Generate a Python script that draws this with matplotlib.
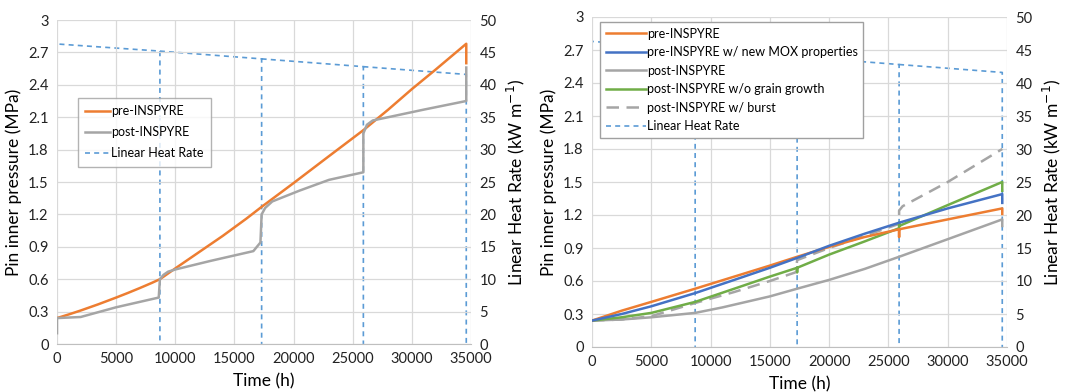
import matplotlib
matplotlib.use("Agg")
import matplotlib.pyplot as plt

plt.rcParams['font.family'] = ['Lato', 'DejaVu Sans']

# ---------------- data ----------------
# Linear heat rate: cycle boundaries (h) and LHR values (kW/m)
lhr_t = [0, 8700, 17300, 25900, 34600]
lhr_v = [46.3, 45.2, 44.0, 42.8, 41.6]

# Left panel
L_pre_t = [0, 1000, 2000, 3500, 5000, 6000, 7000, 8000, 8700, 10000, 12000, 14000, 16000, 17300,
           20000, 23000, 25900, 28000, 30000, 32000, 34600, 34600]
L_pre_p = [0.24, 0.274, 0.31, 0.368, 0.43, 0.473, 0.518, 0.565, 0.60, 0.70, 0.85, 1.00, 1.16, 1.27,
           1.49, 1.74, 1.98, 2.17, 2.36, 2.54, 2.78, 2.60]
L_post_t = [0, 0, 2000, 5000, 8600, 8700, 9000, 9400, 10000, 13000, 16600, 17200, 17300,
            17600, 18200, 20500, 23000, 25900, 25900, 26200, 26700, 28000, 31000, 34600, 34600]
L_post_p = [0.10, 0.24, 0.25, 0.34, 0.43, 0.60, 0.64, 0.67, 0.69, 0.77, 0.86, 0.94, 1.20,
            1.26, 1.32, 1.42, 1.52, 1.59, 1.95, 2.03, 2.07, 2.10, 2.17, 2.25, 2.56]

# Right panel
R_pre_t = [0, 2500, 5000, 8700, 12000, 15000, 17300, 20000, 23000, 25900, 25900, 25900,
           30000, 34600, 34600]
R_pre_p = [0.24, 0.33, 0.41, 0.53, 0.64, 0.74, 0.82, 0.91, 1.00, 1.07, 1.00, 1.07,
           1.16, 1.26, 1.21]
R_mox_t = [0, 2500, 5000, 8700, 12000, 15000, 17300, 20000, 23000, 25900, 30000, 34600, 34600]
R_mox_p = [0.24, 0.30, 0.37, 0.49, 0.61, 0.72, 0.81, 0.92, 1.03, 1.13, 1.26, 1.39, 1.31]
R_post_t = [0, 2500, 5000, 8700, 11000, 15000, 17300, 20000, 23000, 25900, 30000, 34600, 34600]
R_post_p = [0.24, 0.25, 0.27, 0.31, 0.36, 0.46, 0.53, 0.61, 0.71, 0.82, 0.98, 1.16, 1.10]
R_nogg_t = [0, 2500, 5000, 8700, 12000, 15000, 17300, 17300, 17300, 20000, 23000, 25900,
            25900, 25900, 30000, 34600, 34600]
R_nogg_p = [0.24, 0.27, 0.31, 0.41, 0.53, 0.64, 0.72, 0.68, 0.72, 0.84, 0.96, 1.08,
            1.13, 1.10, 1.29, 1.50, 1.42]
R_burst_t = [0, 2500, 5000, 8700, 12000, 15000, 17200, 17300, 20000, 23000, 25900, 25900,
             26200, 30000, 34600]
R_burst_p = [0.24, 0.25, 0.28, 0.40, 0.50, 0.60, 0.68, 0.79, 0.90, 1.01, 1.12, 1.24,
             1.28, 1.50, 1.80]

# ---------------- style ----------------
C_ORANGE = '#ED7D31'
C_BLUE = '#4472C4'
C_GRAY = '#A5A5A5'
C_GREEN = '#70AD47'
C_LHR = '#5B9BD5'
GRID = '#D9D9D9'
LEG_FS = 9


def lhr_path(t, v):
    # vertical rise at start, then each cycle: decreasing line then drop to zero
    xs, ys = [t[0], t[0]], [0, v[0]]
    for i in range(len(t) - 1):
        xs += [t[i + 1], t[i + 1], float('nan'), t[i + 1]]
        ys += [v[i + 1], 0, float('nan'), v[i + 1]]
    return xs[:-2], ys[:-2]


def setup(ax, ax2):
    ax.set_xlim(0, 35000)
    ax.set_ylim(0, 3)
    ax.set_xticks(range(0, 35001, 5000))
    ax.set_yticks([0, 0.3, 0.6, 0.9, 1.2, 1.5, 1.8, 2.1, 2.4, 2.7, 3])
    ax.set_yticklabels(['0', '0.3', '0.6', '0.9', '1.2', '1.5', '1.8', '2.1', '2.4', '2.7', '3'])
    ax2.set_ylim(0, 50)
    ax2.set_yticks(range(0, 51, 5))
    ax.grid(True, color=GRID, linewidth=0.9)
    ax.set_axisbelow(True)
    for a in (ax, ax2):
        for s in a.spines.values():
            s.set_visible(False)
        a.tick_params(length=0, labelsize=10.5, colors='#222222', pad=6)
    ax.spines['bottom'].set_visible(True)
    ax.spines['bottom'].set_color('#BFBFBF')
    ax.set_xlabel('Time (h)', fontsize=12.5, labelpad=5)
    ax.set_ylabel('Pin inner pressure (MPa)', fontsize=12.5, labelpad=4)
    ax2.set_ylabel('Linear Heat Rate (kW m$^{-1}$)', fontsize=12.5, labelpad=6)


fig = plt.figure(figsize=(10.67, 3.92), dpi=100)
DASH = (0, (3, 2.5))

# ---------- left ----------
axL = fig.add_axes([57 / 1067, 1 - 344 / 392, 414 / 1067, 324 / 392])
axL2 = axL.twinx()
setup(axL, axL2)
lx, ly = lhr_path(lhr_t, lhr_v)
l3, = axL2.plot(lx, ly, color=C_LHR, lw=1.2, ls=DASH, label='Linear Heat Rate')
l1, = axL.plot(L_pre_t, L_pre_p, color=C_ORANGE, lw=1.8, label='pre-INSPYRE')
l2, = axL.plot(L_post_t, L_post_p, color=C_GRAY, lw=1.8, label='post-INSPYRE')
axL.set_zorder(axL2.get_zorder() + 1)
axL.patch.set_visible(False)
leg = axL.legend(handles=[l1, l2, l3], loc='upper left', bbox_to_anchor=(0.05, 0.76),
                 fontsize=LEG_FS, frameon=True, fancybox=False, edgecolor='#A0A0A0',
                 handlelength=2.0, handletextpad=0.1, borderpad=0.6, labelspacing=0.72,
                 borderaxespad=0)
leg.get_frame().set_linewidth(1.0)

# ---------- right ----------
axR = fig.add_axes([592 / 1067, 1 - 347 / 392, 415 / 1067, 330 / 392])
axR2 = axR.twinx()
setup(axR, axR2)
rx, ry = lhr_path(lhr_t, lhr_v)
r6, = axR2.plot(rx, ry, color=C_LHR, lw=1.2, ls=DASH, label='Linear Heat Rate')
r5, = axR.plot(R_burst_t, R_burst_p, color=C_GRAY, lw=1.8, ls=(0, (5, 3)),
               label='post-INSPYRE w/ burst')
r3, = axR.plot(R_post_t, R_post_p, color=C_GRAY, lw=1.8, label='post-INSPYRE')
r4, = axR.plot(R_nogg_t, R_nogg_p, color=C_GREEN, lw=1.8, label='post-INSPYRE w/o grain growth')
r1, = axR.plot(R_pre_t, R_pre_p, color=C_ORANGE, lw=1.8, label='pre-INSPYRE')
r2, = axR.plot(R_mox_t, R_mox_p, color=C_BLUE, lw=1.8, label='pre-INSPYRE w/ new MOX properties')
axR.set_zorder(axR2.get_zorder() + 1)
axR.patch.set_visible(False)
legR = axR.legend(handles=[r1, r2, r3, r4, r5, r6], loc='upper left',
                  bbox_to_anchor=(0.019, 0.985), fontsize=LEG_FS, frameon=True, fancybox=False,
                  edgecolor='#A0A0A0', framealpha=1, handlelength=3.2, handletextpad=0.1,
                  borderpad=0.45, labelspacing=0.52, borderaxespad=0)
legR.get_frame().set_linewidth(1.0)

fig.savefig('out.png', dpi=100)
